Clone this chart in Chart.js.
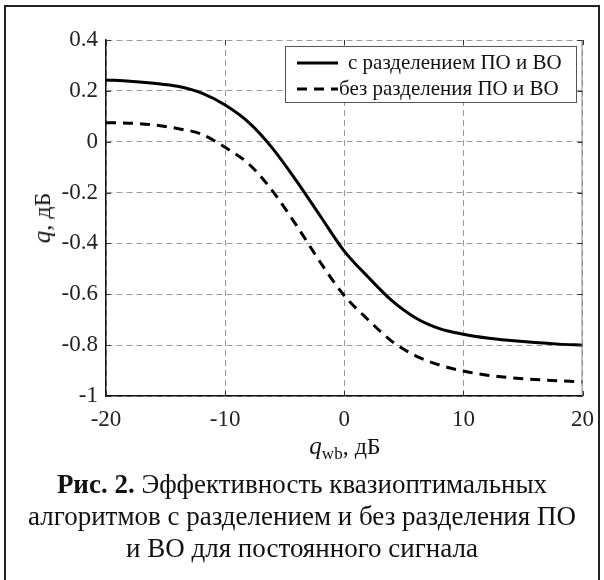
<!DOCTYPE html>
<html>
<head>
    <title>Эффективность квазиоптимальных алгоритмов</title>
    <script src="https://cdn.jsdelivr.net/npm/chart.js"></script>
    <style>
        body { margin: 0; width: 604px; height: 580px; overflow: hidden; background: #fff; font-family: "Liberation Serif", "DejaVu Serif", serif; color: #111; }
        #frame { position: absolute; left: 4px; top: 5px; width: 592px; height: 600px; border: 2px solid #222; }
        #wrap { position: absolute; left: 0; top: 0; width: 604px; height: 580px; }
        .axis-title { position: absolute; font-size: 24px; white-space: nowrap; }
        .axis-title i { font-size: 25px; }
        .axis-title sub { font-size: 17px; vertical-align: -5px; }
        #xTitle { left: 345px; top: 432px; transform: translateX(-50%); }
        #yTitle { left: 42px; top: 218px; transform: translate(-50%, -50%) rotate(-90deg); }
        #caption { position: absolute; left: 0; width: 604px; top: 468px; text-align: center; font-size: 27px; line-height: 32px; }
    </style>
</head>
<body>
    <div id="frame"></div>
    <div id="wrap"><canvas id="effChart" width="604" height="580"></canvas></div>
    <div class="axis-title" id="xTitle"><i>q</i><sub>wb</sub>, дБ</div>
    <div class="axis-title" id="yTitle"><i>q</i>, дБ</div>
    <div id="caption"><b>Рис. 2.</b> Эффективность квазиоптимальных<br>алгоритмов с разделением и без разделения ПО<br>и ВО для постоянного сигнала</div>
<script>
    // values
    var qwb = [-20, -18, -16, -14, -12, -10, -8, -6, -4, -2, 0, 2, 4, 6, 8, 10, 12, 14, 16, 18, 20];
    var withSep = [0.243, 0.238, 0.230, 0.218, 0.192, 0.144, 0.075, -0.027, -0.155, -0.293, -0.43,
                   -0.532, -0.625, -0.693, -0.735, -0.757, -0.772, -0.782, -0.79, -0.796, -0.80];
    var withoutSep = [0.075, 0.073, 0.066, 0.052, 0.030, -0.022, -0.088, -0.195, -0.33, -0.475, -0.605,
                      -0.70, -0.785, -0.842, -0.878, -0.902, -0.918, -0.928, -0.935, -0.94, -0.944];
    var seriesLabels = ['с разделением ПО и ВО', 'без разделения ПО и ВО'];
    var xTicks = [-20, -10, 0, 10, 20];
    var yTicks = [0.4, 0.2, 0, -0.2, -0.4, -0.6, -0.8, -1];

    function points(ys) {
        return qwb.map(function (x, i) { return { x: x, y: ys[i] }; });
    }

    // inward tick marks on all four sides, plus the grey right edge
    var boxTicks = {
        id: 'boxTicks',
        afterDraw: function (chart) {
            var ctx = chart.ctx, a = chart.chartArea;
            var xs = chart.scales.x, ys = chart.scales.y;
            ctx.save();
            ctx.strokeStyle = '#888';
            ctx.lineWidth = 1;
            ctx.beginPath();
            ctx.moveTo(a.right - 0.5, a.top);
            ctx.lineTo(a.right - 0.5, a.bottom);
            ctx.stroke();
            ctx.strokeStyle = '#333';
            ctx.beginPath();
            yTicks.forEach(function (v) {
                var py = Math.round(ys.getPixelForValue(v)) + 0.5;
                ctx.moveTo(a.left, py); ctx.lineTo(a.left + 5, py);
                ctx.moveTo(a.right, py); ctx.lineTo(a.right - 5, py);
            });
            xTicks.forEach(function (v) {
                var px = Math.round(xs.getPixelForValue(v)) + 0.5;
                ctx.moveTo(px, a.bottom); ctx.lineTo(px, a.bottom - 5);
                ctx.moveTo(px, a.top); ctx.lineTo(px, a.top + 5);
            });
            ctx.stroke();
            ctx.restore();
        }
    };

    // boxed legend in the top right corner of the plot
    var boxLegend = {
        id: 'boxLegend',
        afterDraw: function (chart) {
            var ctx = chart.ctx;
            var left = 285, top = 46, right = 576, bottom = 102;
            ctx.save();
            ctx.fillStyle = '#fff';
            ctx.fillRect(left, top, right - left, bottom - top);
            ctx.strokeStyle = '#555';
            ctx.lineWidth = 1;
            ctx.strokeRect(left + 0.5, top + 0.5, right - left, bottom - top);
            var rows = [63, 89];
            var textX = [348, 339];
            chart.data.datasets.forEach(function (ds, i) {
                ctx.strokeStyle = ds.borderColor;
                ctx.lineWidth = ds.borderWidth;
                ctx.setLineDash(ds.borderDash || []);
                ctx.beginPath();
                ctx.moveTo(297, rows[i]);
                ctx.lineTo(338, rows[i]);
                ctx.stroke();
                ctx.setLineDash([]);
                ctx.fillStyle = '#111';
                ctx.font = '21px "Liberation Serif"';
                ctx.textBaseline = 'middle';
                ctx.fillText(ds.label, textX[i], rows[i]);
            });
            ctx.restore();
        }
    };

    var gridOpts = { color: '#9a9a9a', lineWidth: 1, drawTicks: false };
    var tickFont = { family: 'Liberation Serif', size: 23 };

    var ctx = document.getElementById('effChart').getContext('2d');
    var effChart = new Chart(ctx, {
        type: 'line',
        data: {
            datasets: [{
                label: seriesLabels[0],
                data: points(withSep),
                borderColor: '#000',
                borderWidth: 3,
                pointRadius: 0,
                cubicInterpolationMode: 'monotone'
            }, {
                label: seriesLabels[1],
                data: points(withoutSep),
                borderColor: '#000',
                borderWidth: 3,
                borderDash: [10, 7],
                pointRadius: 0,
                cubicInterpolationMode: 'monotone'
            }]
        },
        options: {
            responsive: false,
            animation: false,
            layout: { padding: { top: 40, right: 20, left: 0, bottom: 144 } },
            plugins: { legend: { display: false }, tooltip: { enabled: false } },
            scales: {
                x: {
                    type: 'linear',
                    min: -20, max: 20,
                    afterBuildTicks: function (s) { s.ticks = xTicks.map(function (v) { return { value: v }; }); },
                    afterFit: function (s) { s.height = 40; },
                    grid: gridOpts,
                    border: { color: '#111', width: 1.5, dash: [6, 4] },
                    ticks: { font: tickFont, color: '#222', padding: 10, maxRotation: 0,
                             callback: function (v) { return String(v); } }
                },
                y: {
                    min: -1, max: 0.4,
                    afterBuildTicks: function (s) { s.ticks = yTicks.map(function (v) { return { value: v }; }); },
                    afterFit: function (s) { s.width = 106; },
                    grid: gridOpts,
                    border: { color: '#111', width: 1.5, dash: [6, 4] },
                    ticks: { font: tickFont, color: '#222', padding: 8,
                             callback: function (v) { return String(Number(v.toFixed(1))); } }
                }
            }
        },
        plugins: [boxTicks, boxLegend]
    });
</script>
</body>
</html>
